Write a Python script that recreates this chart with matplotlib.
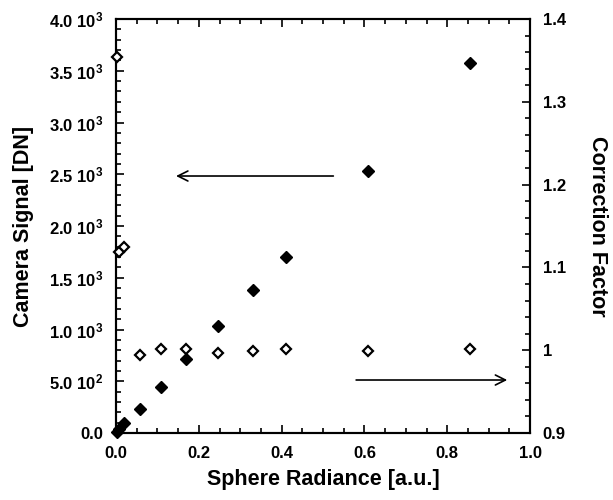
import matplotlib
matplotlib.use("Agg")
import matplotlib.pyplot as plt
from matplotlib.ticker import MultipleLocator, FixedLocator, FuncFormatter

# font setup
plt.rcParams["font.family"] = ["Liberation Sans", "DejaVu Sans"]
plt.rcParams["font.weight"] = "bold"
plt.rcParams["mathtext.fontset"] = "custom"
plt.rcParams["mathtext.rm"] = "Liberation Sans:bold"
plt.rcParams["mathtext.it"] = "Liberation Sans:bold"
plt.rcParams["mathtext.bf"] = "Liberation Sans:bold"

# data
radiance = [0.002, 0.007, 0.020, 0.058, 0.108, 0.169, 0.247, 0.330, 0.410, 0.609, 0.855]
signal = [12, 35, 92, 235, 442, 717, 1034, 1377, 1700, 2534, 3572]
correction = [1.354, 1.119, 1.125, 0.994, 1.001, 1.001, 0.997, 0.999, 1.001, 0.999, 1.001]

signal_ticks = [0, 500, 1000, 1500, 2000, 2500, 3000, 3500, 4000]
signal_labels = ["0.0", "5.0 $10^{2}$", "1.0 $10^{3}$", "1.5 $10^{3}$", "2.0 $10^{3}$",
                 "2.5 $10^{3}$", "3.0 $10^{3}$", "3.5 $10^{3}$", "4.0 $10^{3}$"]

fig = plt.figure(figsize=(6.13, 5.0), dpi=100)
ax = fig.add_axes([116 / 613, 67 / 500, 414 / 613, 414 / 500])
ax2 = ax.twinx()

ax.plot(radiance, signal, linestyle="none", marker="D", markersize=6.5,
        color="black", clip_on=False, zorder=5)
ax2.plot(radiance, correction, linestyle="none", marker="D", markersize=5,
         markerfacecolor="white", markeredgecolor="black", markeredgewidth=1.6,
         clip_on=False, zorder=5)

ax.set_xlim(0, 1)
ax.set_ylim(0, 4000)
ax2.set_ylim(0.9, 1.4)

ax.xaxis.set_major_locator(MultipleLocator(0.2))
ax.xaxis.set_minor_locator(MultipleLocator(0.05))
ax.xaxis.set_major_formatter(FuncFormatter(lambda v, p: "%.1f" % v))
ax.yaxis.set_major_locator(FixedLocator(signal_ticks))
ax.set_yticklabels(signal_labels)
ax.yaxis.set_minor_locator(MultipleLocator(100))
ax2.yaxis.set_major_locator(MultipleLocator(0.1))
ax2.yaxis.set_minor_locator(MultipleLocator(0.02))
ax2.yaxis.set_major_formatter(FuncFormatter(lambda v, p: "%g" % round(v, 2)))

for a in (ax, ax2):
    for s in a.spines.values():
        s.set_linewidth(1.5)
    a.tick_params(which="major", direction="in", length=6, width=1.2,
                  labelsize=12, pad=9)
    a.tick_params(which="minor", direction="in", length=3.5, width=1.2)
ax.tick_params(which="both", top=True, right=False)
ax2.tick_params(which="both", left=False, right=True)

ax.set_xlabel("Sphere Radiance [a.u.]", fontsize=15.5, fontweight="bold", va="center")
ax.set_ylabel("Camera Signal [DN]", fontsize=15.5, fontweight="bold", va="center")
ax2.set_ylabel("Correction Factor", fontsize=15.5, fontweight="bold",
               rotation=270, va="center")
ax.xaxis.set_label_coords(0.5, -0.1135)
ax.yaxis.set_label_coords(-0.2246, 0.5)
ax2.yaxis.set_label_coords(1.162, 0.5)

# arrows pointing to each axis
ax.annotate("", xy=(0.145, 2483), xytext=(0.525, 2483),
            arrowprops=dict(arrowstyle="->", lw=1.2, color="black",
                            mutation_scale=18, shrinkA=0, shrinkB=0))
ax.annotate("", xy=(0.945, 512), xytext=(0.58, 512),
            arrowprops=dict(arrowstyle="->", lw=1.2, color="black",
                            mutation_scale=18, shrinkA=0, shrinkB=0))

fig.savefig("out.png", dpi=100)
